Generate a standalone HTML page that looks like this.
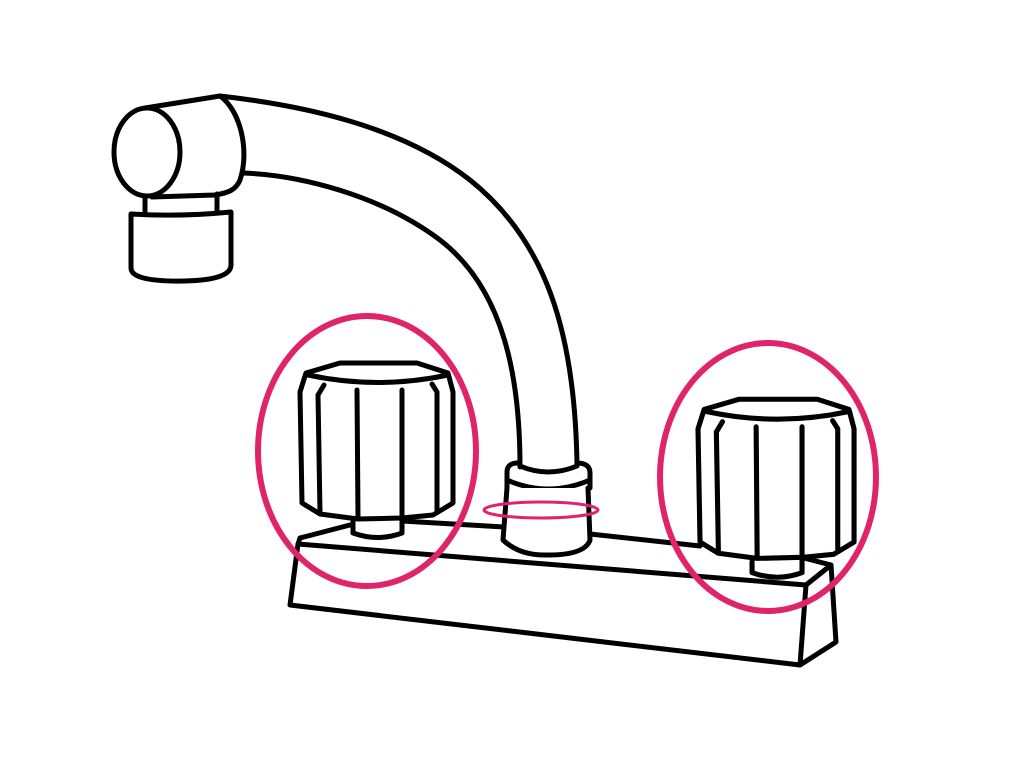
<!DOCTYPE html>
<html><head><meta charset="utf-8"><style>html,body{margin:0;padding:0;background:#fff;}svg{display:block}</style></head>
<body>
<svg width="1024" height="768" viewBox="0 0 1024 768" xmlns="http://www.w3.org/2000/svg">
<g fill="none" stroke="#000" stroke-width="5" stroke-linejoin="round" stroke-linecap="round">
<!-- pipe -->
<path d="M220,96 C300,105 400,125 470,180 C545,240 575,330 577,465"/>
<path d="M243,173 C300,175 380,195 440,240 C505,290 520,380 520,467"/>
<!-- spout head -->
<ellipse cx="147" cy="152" rx="33" ry="44"/>
<path d="M145,108 L220,96 C240,110 250,150 240,180 C236,190 228,193 215,195 L152,197"/>
<!-- aerator -->
<path d="M145,199 L145,213 M217,194 L217,212"/>
<path d="M131,214 Q180,217 231,212 L231,265 Q231,280 185,281 Q131,282 131,268 Z"/>
<!-- base -->
<path d="M300,538 L350,525"/>
<path d="M402,521 L504,527"/>
<path d="M590,534 L700,546"/>
<path d="M800,557 L831,565 L806,585 L298,544 L300,538"/>
<path d="M298,544 L290,605 L800,665 L806,585 M831,565 L836,642 L800,665"/>
<!-- collar -->
<path d="M507,488 L507,472 Q507,463 518,463 M577,463 Q590,463 590,473 L590,488"/>
<path d="M520,466 Q548,478 577,466"/>
<path d="M507,480 Q548,498 590,480"/>
<path d="M507,488 L503,540 Q520,556 548,555 Q585,555 590,540 L588,488" fill="#fff"/>
<!-- left knob -->
<g id="knob">
<path d="M353,522 L353,533 Q378,542 402,533 L402,520" fill="#fff"/>
<path d="M300,392 L306,373 L340,363 L417,363 L448,373 L453,392 L453,503 L433,515 L402,518 L358,519 L320,514 L302,503 Z" fill="#fff"/>
<path d="M308,375 Q378,390 448,375"/>
<path d="M318,395 L320,513 M324,385 L318,395 M357,390 L358,518 M402,390 L402,517 M437,392 L437,510 M432,384 L437,392"/>
</g>
<use href="#knob" transform="translate(392,29) scale(1.02)" />
</g>
<g fill="none" stroke="#e0246a">
<ellipse cx="367" cy="451" rx="109" ry="135" stroke-width="6"/>
<ellipse cx="768" cy="477" rx="108" ry="134" stroke-width="6"/>
<ellipse cx="541" cy="510" rx="57" ry="8" stroke-width="3"/>
</g>
</svg>
</body></html>
